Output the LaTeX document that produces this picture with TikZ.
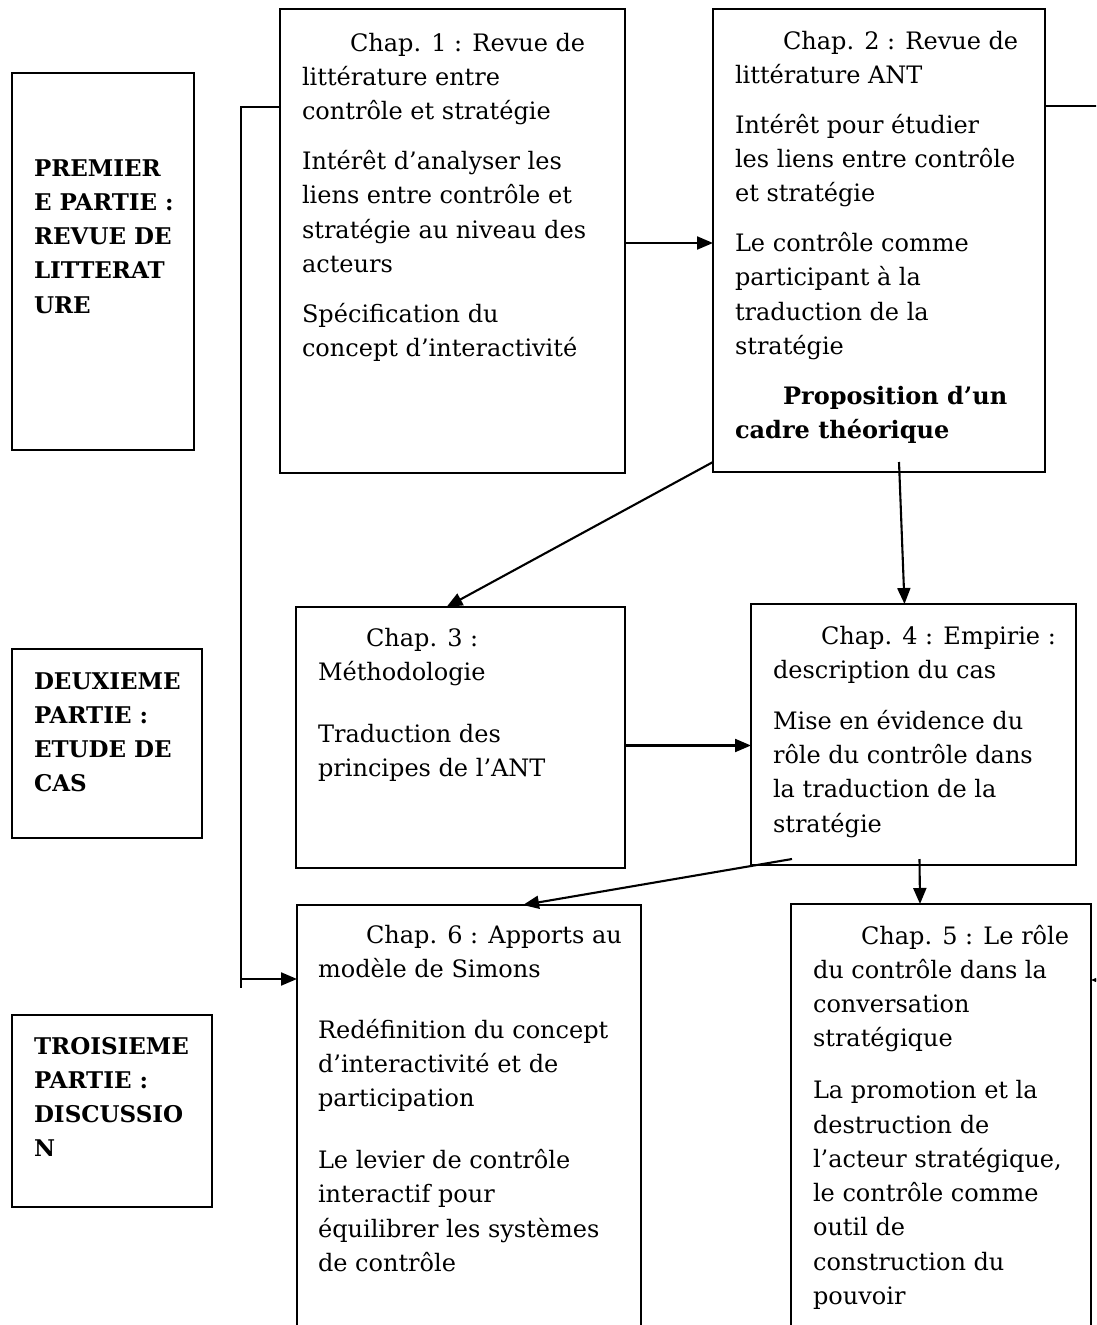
\documentclass[tikz,border=0pt]{standalone}
\usepackage{fontspec}
\setmainfont{DejaVu Serif}
\usetikzlibrary{arrows.meta,positioning}
\tikzset{>={Triangle[length=16pt,width=13pt]}}
\newcommand{\chapfont}{\fontsize{24}{34.3}\selectfont}
\newcommand{\partfont}{\fontsize{23}{34.3}\selectfont\bfseries}
\newcommand{\ind}{\hspace*{48pt}}

\begin{document}
\begin{tikzpicture}[x=1pt,y=-1pt,line width=2.1pt,
    box/.style={draw,rectangle,anchor=north west,inner sep=0pt,outer sep=0pt},
    chaptext/.style={anchor=north west,align=left,inner sep=0pt,font=\chapfont},
    parttext/.style={anchor=north west,align=left,inner sep=0pt,font=\partfont}]
    \path[use as bounding box] (0,0) rectangle (1096,1325);
    \clip (0,0) rectangle (1096,1325);

    % parts
    \node[box,minimum width=182pt,minimum height=377pt] (part1) at (12,73) {};
    \node[box,minimum width=190pt,minimum height=189pt] (part2) at (12,649) {};
    \node[box,minimum width=200pt,minimum height=192pt] (part3) at (12,1015) {};
    \node[parttext] (part1text) at (33,151) {\strut PREMIER\\ E PARTIE :\\ REVUE DE\\ LITTERAT\\ URE};
    \node[parttext] (part2text) at (33,664) {\strut DEUXIEME\\ PARTIE :\\ ETUDE DE\\ CAS};
    \node[parttext] (part3text) at (33,1029) {\strut TROISIEME\\ PARTIE :\\ DISCUSSIO\\ N};

    % chapters
    \node[box,minimum width=345pt,minimum height=464pt] (chap1) at (280,9) {};
    \node[box,minimum width=332pt,minimum height=463pt] (chap2) at (713,9) {};
    \node[box,minimum width=329pt,minimum height=261pt] (chap3) at (296,607) {};
    \node[box,minimum width=325pt,minimum height=261pt] (chap4) at (751,604) {};
    \node[box,minimum width=344pt,minimum height=450pt] (chap6) at (297,905) {};
    \node[box,minimum width=300pt,minimum height=450pt] (chap5) at (791,904) {};

    \node[chaptext] (chap1text) at (301,26) {\strut\ind Chap. 1 : Revue de\\ littérature entre\\ contrôle et stratégie\\[15.5pt]
        Intérêt d’analyser les\\ liens entre contrôle et\\ stratégie au niveau des\\ acteurs\\[15.5pt]
        Spécification du\\ concept d’interactivité};
    \node[chaptext] (chap2text) at (734,24) {\strut\ind Chap. 2 : Revue de\\ littérature ANT\\[15.5pt]
        Intérêt pour étudier\\ les liens entre contrôle\\ et stratégie\\[15.5pt]
        Le contrôle comme\\ participant à la\\ traduction de la\\ stratégie\\[15.5pt]
        \ind\textbf{Proposition d’un}\\ \textbf{cadre théorique}};
    \node[chaptext] (chap3text) at (317,621) {\strut\ind Chap. 3 :\\ Méthodologie\\[27.5pt]
        Traduction des\\ principes de l’ANT};
    \node[chaptext] (chap4text) at (772,619) {\strut\ind Chap. 4 : Empirie :\\ description du cas\\[16.5pt]
        Mise en évidence du\\ rôle du contrôle dans\\ la traduction de la\\ stratégie};
    \node[chaptext] (chap6text) at (317,918) {\strut\ind Chap. 6 : Apports au\\ modèle de Simons\\[26.5pt]
        Redéfinition du concept\\ d’interactivité et de\\ participation\\[27.5pt]
        Le levier de contrôle\\ interactif pour\\ équilibrer les systèmes\\ de contrôle};
    \node[chaptext] (chap5text) at (812,919) {\strut\ind Chap. 5 : Le rôle\\ du contrôle dans la\\ conversation\\ stratégique\\[17.5pt]
        La promotion et la\\ destruction de\\ l’acteur stratégique,\\ le contrôle comme\\ outil de\\ construction du\\ pouvoir};

    % links
    \coordinate (a12) at ([yshift=-2pt]chap1.east);
    \draw[->] (a12) -- (a12 -| chap2.west);
    \coordinate (a34) at ([yshift=-8pt]chap3.east);
    \draw[->] (a34) -- (a34 -| chap4.west);
    \draw[->] ([yshift=10pt]chap2.south west) -- ([xshift=-14pt]chap3.north);
    \draw[->] ([xshift=20pt,yshift=10pt]chap2.south) -- ([xshift=-9pt]chap4.north);
    \draw[->] ([xshift=41pt,yshift=6pt]chap4.south west) -- ([xshift=54pt]chap6.north);
    \draw[->] ([xshift=6pt,yshift=6pt]chap4.south) -- ([xshift=-21pt]chap5.north);

    \coordinate (ltop) at (241,107);
    \coordinate (lbot) at (241,988);
    \coordinate (larr) at (241,979);
    \draw (chap1.west |- ltop) -- (ltop) -- (lbot);
    \draw[->] (larr) -- (larr -| chap6.west);

    \coordinate (rtop) at (1100,106);
    \coordinate (rbot) at (1100,980);
    \draw (rtop -| chap2.east) -- (rtop);
    \draw[->] (rbot) -- (rbot -| chap5.east);
\end{tikzpicture}
\end{document}
